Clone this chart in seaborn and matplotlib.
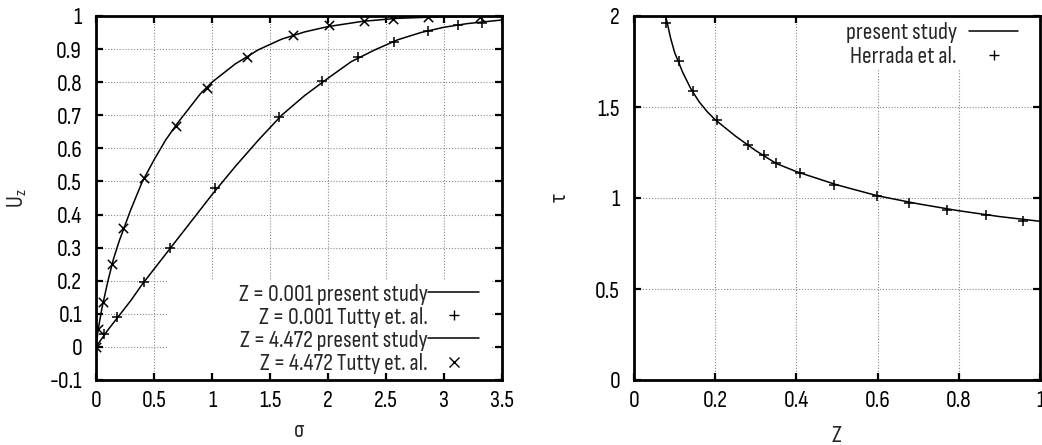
import matplotlib
matplotlib.use("Agg")
import matplotlib.pyplot as plt
from matplotlib import font_manager
from matplotlib.font_manager import FontProperties
from matplotlib.textpath import TextPath
from matplotlib.ft2font import FT2Font
from matplotlib.lines import Line2D
from matplotlib.patches import Rectangle
import seaborn as sns
import pandas as pd

# ---------------- data ----------------
# Left panel: velocity profiles U_z vs sigma
line_sigma_z1 = [0, 0.1, 0.2, 0.3, 0.4, 0.5, 0.6, 0.7, 0.8, 0.9, 1.0, 1.2, 1.4,
                 1.6, 1.8, 2.0, 2.2, 2.4, 2.6, 2.8, 3.0, 3.2, 3.5]
line_uz_z1 = [0, 0.05, 0.095, 0.14, 0.19, 0.235, 0.28, 0.325, 0.37, 0.415, 0.46,
              0.545, 0.625, 0.70, 0.76, 0.812, 0.862, 0.897, 0.928, 0.95, 0.966,
              0.977, 0.988]
pts_sigma_z1 = [0, 0.07, 0.18, 0.41, 0.64, 1.03, 1.58, 1.95, 2.26, 2.57, 2.86,
                3.12, 3.33]
pts_uz_z1 = [0, 0.04, 0.091, 0.195, 0.30, 0.48, 0.695, 0.804, 0.877, 0.922,
             0.956, 0.973, 0.98]

line_sigma_z2 = [0, 0.02, 0.05, 0.1, 0.15, 0.2, 0.3, 0.4, 0.5, 0.6, 0.7, 0.8,
                 0.9, 1.0, 1.2, 1.4, 1.6, 1.8, 2.0, 2.3, 2.6, 3.0, 3.5]
line_uz_z2 = [0, 0.055, 0.115, 0.195, 0.265, 0.32, 0.415, 0.50, 0.565, 0.625,
              0.675, 0.72, 0.765, 0.80, 0.855, 0.898, 0.93, 0.952, 0.968,
              0.984, 0.993, 0.998, 1.0]
pts_sigma_z2 = [0, 0.02, 0.063, 0.14, 0.236, 0.414, 0.687, 0.96, 1.30, 1.695,
                2.01, 2.31, 2.56, 2.865, 3.31]
pts_uz_z2 = [0, 0.055, 0.135, 0.25, 0.36, 0.51, 0.667, 0.783, 0.877, 0.942,
             0.972, 0.986, 0.99, 0.997, 0.998]

# Right panel: tau vs Z
line_Z = [0.078, 0.09, 0.1, 0.12, 0.14, 0.16, 0.18, 0.2, 0.25, 0.3, 0.35, 0.4,
          0.5, 0.6, 0.7, 0.8, 0.9, 1.0]
line_tau = [2.0, 1.88, 1.80, 1.69, 1.60, 1.53, 1.475, 1.43, 1.34, 1.26, 1.19,
            1.145, 1.072, 1.012, 0.968, 0.93, 0.898, 0.872]
pts_Z = [0.080, 0.110, 0.145, 0.204, 0.281, 0.320, 0.349, 0.409, 0.493, 0.599,
         0.678, 0.772, 0.866, 0.959]
pts_tau = [1.963, 1.752, 1.589, 1.427, 1.291, 1.234, 1.192, 1.137, 1.074,
           1.010, 0.975, 0.935, 0.904, 0.876]

left_xticks = [0, 0.5, 1, 1.5, 2, 2.5, 3, 3.5]
left_xticklabels = ["0", "0.5", "1", "1.5", "2", "2.5", "3", "3.5"]
left_yticks = [-0.1, 0, 0.1, 0.2, 0.3, 0.4, 0.5, 0.6, 0.7, 0.8, 0.9, 1]
left_yticklabels = ["-0.1", "0", "0.1", "0.2", "0.3", "0.4", "0.5", "0.6",
                    "0.7", "0.8", "0.9", "1"]
right_xticks = [0, 0.2, 0.4, 0.6, 0.8, 1]
right_xticklabels = ["0", "0.2", "0.4", "0.6", "0.8", "1"]
right_yticks = [0, 0.5, 1, 1.5, 2]
right_yticklabels = ["0", "0.5", "1", "1.5", "2"]

left_labels = ["Z = 0.001 present study", "Z = 0.001 Tutty et. al.",
               "Z = 4.472 present study", "Z = 4.472 Tutty et. al."]
right_labels = ["present study", "Herrada et al."]

# ---------------- font choice ----------------
sns.set_theme(style="white")

# The reference uses a narrow Helvetica-like face: "present study" is about
# 109 px wide with a cap height of about 15.7 px.  Pick the installed regular
# sans face whose proportions come closest.
TARGET_W, TARGET_CAP = 109.0, 15.7
best = None
seen = set()
for f in font_manager.fontManager.ttflist:
    nm = f.name.lower()
    if f.style != "normal" or f.fname in seen:
        continue
    if any(k in nm for k in ("mono", "serif", "cjk", "math", "symbol", "emoji", "display")):
        continue
    if f.weight not in (400, "normal", "regular", "book"):
        continue
    seen.add(f.fname)
    try:
        ft = FT2Font(f.fname)
        if ft.get_char_index(ord("σ")) == 0 or ft.get_char_index(ord("τ")) == 0:
            continue
        fp = FontProperties(fname=f.fname)
        w = TextPath((0, 0), "present study", size=10, prop=fp).get_extents().width
        c = TextPath((0, 0), "Z", size=10, prop=fp).get_extents().height
    except Exception:
        continue
    if w <= 0 or c <= 0:
        continue
    ratio = w / c
    pen = abs(ratio - TARGET_W / TARGET_CAP)
    if "liberation" in nm or "helvet" in nm or "arial" in nm:
        pen -= 0.15
    if best is None or pen < best[0]:
        best = (pen, f.fname, w, c, f.name)

if best is not None:
    FONT_FILE, w10, c10, FAM = best[1], best[2], best[3], best[4]
else:
    FONT_FILE = font_manager.findfont("Liberation Sans")
    fp = FontProperties(fname=FONT_FILE)
    w10 = TextPath((0, 0), "present study", size=10, prop=fp).get_extents().width
    c10 = TextPath((0, 0), "Z", size=10, prop=fp).get_extents().height
    FAM = "Liberation Sans"

# sizes in points (TextPath units are points at size 10; 1 pt = 100/72 px)
size_w = 10 * TARGET_W / (w10 * 100 / 72.0)
size_c = 10 * TARGET_CAP / (c10 * 100 / 72.0)
FS = (size_w * size_c) ** 0.5
EM = FS * 100 / 72.0  # em size in pixels

PROP = FontProperties(fname=FONT_FILE, size=FS)
plt.rcParams["mathtext.fontset"] = "custom"
plt.rcParams["mathtext.rm"] = FAM

fig = plt.figure(figsize=(10.42, 4.45), dpi=100)
ax1 = fig.add_axes([96 / 1042, 1 - 380 / 445, 406 / 1042, 364 / 445])
ax2 = fig.add_axes([634 / 1042, 1 - 380 / 445, 406 / 1042, 364 / 445])

grid_kw = dict(color="#8a8a8a", linestyle=(0, (1, 1.6)), linewidth=0.8)


def style_axes(ax):
    for sp in ax.spines.values():
        sp.set_linewidth(2.0)
        sp.set_color("black")
    ax.tick_params(which="major", direction="in", length=5, width=1.6,
                   top=True, right=True, bottom=True, left=True,
                   colors="black")
    ax.tick_params(axis="y", pad=10)
    ax.tick_params(axis="x", pad=7)
    for t in ax.get_xticklabels() + ax.get_yticklabels():
        t.set_fontproperties(PROP)
    ax.grid(True, **grid_kw)
    ax.set_axisbelow(True)


# ---------------- left panel ----------------
df_l1 = pd.DataFrame({"s": line_sigma_z1, "u": line_uz_z1})
df_l2 = pd.DataFrame({"s": line_sigma_z2, "u": line_uz_z2})
df_p1 = pd.DataFrame({"s": pts_sigma_z1, "u": pts_uz_z1})
df_p2 = pd.DataFrame({"s": pts_sigma_z2, "u": pts_uz_z2})

sns.lineplot(data=df_l1, x="s", y="u", ax=ax1, color="black", lw=1.1,
             sort=False, estimator=None)
sns.lineplot(data=df_l2, x="s", y="u", ax=ax1, color="black", lw=1.1,
             sort=False, estimator=None)
sns.scatterplot(data=df_p1, x="s", y="u", ax=ax1, marker="+", color="black",
                s=60, linewidth=1.1, zorder=3)
sns.scatterplot(data=df_p2, x="s", y="u", ax=ax1, marker="x", color="black",
                s=45, linewidth=1.1, zorder=3)

ax1.set_xlim(0, 3.5)
ax1.set_ylim(-0.1, 1)
ax1.set_xticks(left_xticks, left_xticklabels)
ax1.set_yticks(left_yticks, left_yticklabels)
style_axes(ax1)
ax1.set_xlabel("σ", fontproperties=PROP, va="baseline")
ax1.xaxis.set_label_coords(0.5, (380 - 437) / 364)
ax1.set_ylabel(r"$\mathregular{U_z}$", fontproperties=PROP, va="center")
ax1.yaxis.set_label_coords((17 - 96) / 406, 0.5)

# white key box (gnuplot style) hiding the grid behind the key
ax1.add_patch(Rectangle((0.178, 0.02), 0.797, 0.255, transform=ax1.transAxes,
                        facecolor="white", edgecolor="none", zorder=1))

h_line = Line2D([], [], color="black", lw=1.1)
h_plus = Line2D([], [], color="black", lw=0, marker="+", ms=7.5, mew=1.0)
h_x = Line2D([], [], color="black", lw=0, marker="x", ms=6.5, mew=1.0)
leg1 = ax1.legend([h_line, h_plus, h_line, h_x], left_labels, loc="lower right",
                  bbox_to_anchor=((479 - 96) / 406, (380 - 374) / 364),
                  markerfirst=False, prop=PROP, frameon=False,
                  handlelength=51 / EM, handletextpad=0.0,
                  labelspacing=0.09, borderpad=0.0, borderaxespad=0.0)

# ---------------- right panel ----------------
df_rl = pd.DataFrame({"Z": line_Z, "tau": line_tau})
df_rp = pd.DataFrame({"Z": pts_Z, "tau": pts_tau})
sns.lineplot(data=df_rl, x="Z", y="tau", ax=ax2, color="black", lw=1.1,
             sort=False, estimator=None)
sns.scatterplot(data=df_rp, x="Z", y="tau", ax=ax2, marker="+", color="black",
                s=60, linewidth=1.1, zorder=3)
ax2.set_xlim(0, 1)
ax2.set_ylim(0, 2)
ax2.set_xticks(right_xticks, right_xticklabels)
ax2.set_yticks(right_yticks, right_yticklabels)
style_axes(ax2)
ax2.set_xlabel("Z", fontproperties=PROP, va="baseline")
ax2.xaxis.set_label_coords(0.5, (380 - 442) / 364)
ax2.set_ylabel("τ", fontproperties=PROP, va="center")
ax2.yaxis.set_label_coords((559 - 634) / 406, 0.5)

ax2.add_patch(Rectangle((0.48, 0.855), 0.52, 0.145, transform=ax2.transAxes,
                        facecolor="white", edgecolor="none", zorder=1))
leg2 = ax2.legend([h_line, h_plus], right_labels, loc="upper right",
                  bbox_to_anchor=((1018 - 634) / 406, (380 - 22) / 364),
                  markerfirst=False, prop=PROP, frameon=False,
                  handlelength=49 / EM, handletextpad=12 / EM,
                  labelspacing=0.14, borderpad=0.0, borderaxespad=0.0)

fig.savefig("out.png", dpi=100)
